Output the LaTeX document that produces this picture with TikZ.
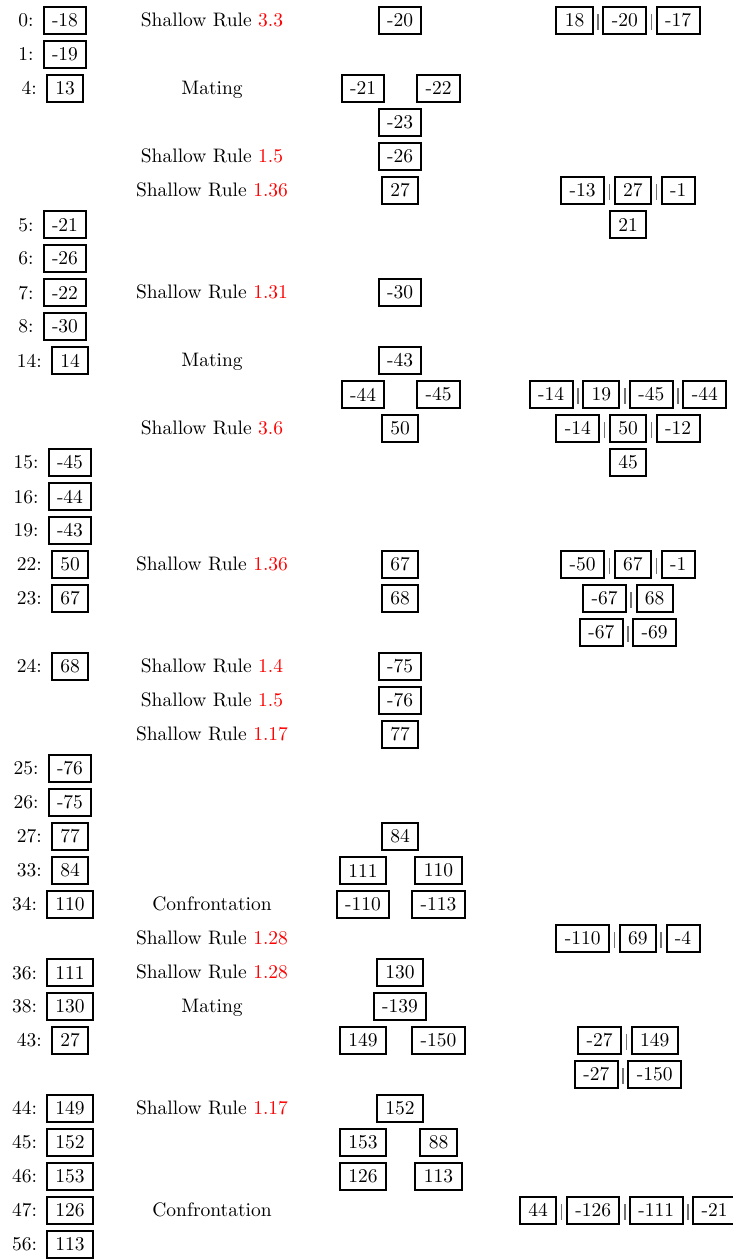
\documentclass[tikz,border=0pt]{standalone}
\usetikzlibrary{matrix}

\tikzset{
  box/.style={draw, line width=1pt, inner xsep=4.2pt, inner ysep=3.5pt},
  clause/.style={matrix of nodes, nodes={box}, column sep=4.3pt, inner sep=0pt},
  bar/.style={draw=black!55, line width=0.8pt},
  stepname/.style={anchor=base, inner sep=0pt},
  idx/.style={anchor=base east, inner sep=0pt},
}

% gray separators between the literals of a clause matrix #1 with #2 boxes
\newcommand\clausebars[2]{%
  \foreach \i in {2,...,#2}{%
    \pgfmathtruncatemacro\h{\i-1}%
    \path (#1-1-\h.east) -- (#1-1-\i.west) coordinate[midway] (#1-s\i);
    \draw[bar] ([yshift=3.2pt]#1-s\i) -- ([yshift=-4.8pt]#1-s\i);
  }%
}

\begin{document}
\begin{tikzpicture}[x=0.5pt, y=-0.5pt, font=\fontsize{9.75pt}{12pt}\selectfont]
\useasboundingbox (0,0) rectangle (733,1259);

% numbered trail entries on the left
\foreach \r/\lab/\val in {0/0/-18, 1/1/-19, 2/4/13, 6/5/-21, 7/6/-26, 8/7/-22,
    9/8/-30, 10/14/14, 13/15/-45, 14/16/-44, 15/19/-43, 16/22/50, 17/23/67,
    19/24/68, 22/25/-76, 23/26/-75, 24/27/77, 25/33/84, 26/34/110, 28/36/111,
    29/38/130, 30/43/27, 32/44/149, 33/45/152, 34/46/153, 35/47/126, 36/56/113}{
  \pgfmathsetmacro\yc{20.5+34*\r}
  \pgfmathsetmacro\bx{\lab<10 ? 65 : 70}
  \node[box] (v\r) at (\bx,\yc) {\val};
  \node[idx] (l\r) at ([xshift=-4.3pt]v\r.base west) {\lab:};
}

% rule names
\foreach \r/\num in {0/3.3, 4/1.5, 5/1.36, 8/1.31, 12/3.6, 16/1.36, 19/1.4,
    20/1.5, 21/1.17, 27/1.28, 28/1.28, 32/1.17}{
  \pgfmathsetmacro\yb{20.5+34*\r+6.28}
  \node[stepname] (r\r) at (212,\yb) {Shallow Rule \textcolor{red}{\num}};
}
\foreach \r/\word in {2/Mating, 10/Mating, 26/Confrontation, 29/Mating,
    35/Confrontation}{
  \pgfmathsetmacro\yb{20.5+34*\r+6.28}
  \node[stepname] (w\r) at (212,\yb) {\word};
}

% derived literals
\foreach \r/\val in {0/-20, 3/-23, 4/-26, 5/27, 8/-30, 10/-43, 12/50, 16/67,
    17/68, 19/-75, 20/-76, 21/77, 24/84, 28/130, 29/-139, 32/152}{
  \pgfmathsetmacro\yc{20.5+34*\r}
  \node[box] (d\r) at (400,\yc) {\val};
}
\foreach \r/\va/\vb in {2/-21/-22, 11/-44/-45, 25/111/110, 26/-110/-113,
    30/149/-150, 33/153/88, 34/126/113}{
  \pgfmathsetmacro\yc{20.5+34*\r}
  \node[box] (pa\r) at (363,\yc) {\va};
  \node[box] (pb\r) at (438.5,\yc) {\vb};
}

% clauses
\matrix (k0)  [clause] at (628,20.5)   {18 & -20 & -17 \\};
\matrix (k5)  [clause] at (628,190.5)  {-13 & 27 & -1 \\};
\matrix (k6)  [clause] at (628,224.5)  {21 \\};
\matrix (k11) [clause] at (628,394.5)  {-14 & 19 & -45 & -44 \\};
\matrix (k12) [clause] at (628,428.5)  {-14 & 50 & -12 \\};
\matrix (k13) [clause] at (628,462.5)  {45 \\};
\matrix (k16) [clause] at (628,564.5)  {-50 & 67 & -1 \\};
\matrix (k17) [clause] at (628,598.5)  {-67 & 68 \\};
\matrix (k18) [clause] at (628,632.5)  {-67 & -69 \\};
\matrix (k27) [clause] at (628,938.5)  {-110 & 69 & -4 \\};
\matrix (k30) [clause] at (628,1040.5) {-27 & 149 \\};
\matrix (k31) [clause] at (628,1074.5) {-27 & -150 \\};
\matrix (k35) [clause] at (628,1210.5) {44 & -126 & -111 & -21 \\};

\clausebars{k0}{3}
\clausebars{k5}{3}
\clausebars{k11}{4}
\clausebars{k12}{3}
\clausebars{k16}{3}
\clausebars{k17}{2}
\clausebars{k18}{2}
\clausebars{k27}{3}
\clausebars{k30}{2}
\clausebars{k31}{2}
\clausebars{k35}{4}
\end{tikzpicture}
\end{document}
